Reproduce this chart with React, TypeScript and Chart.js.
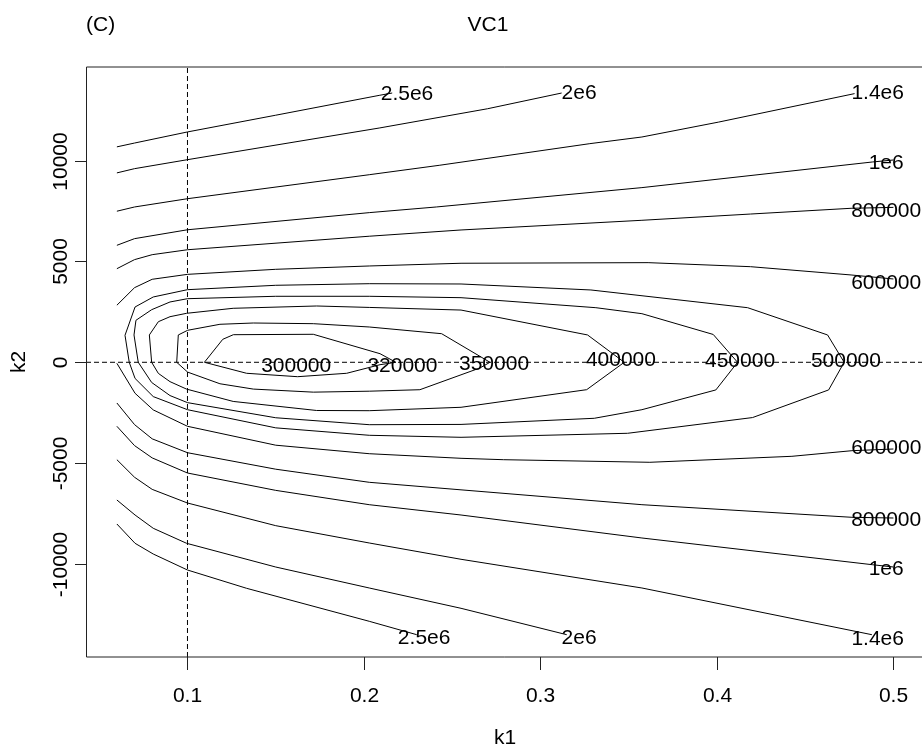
import React, { useEffect, useRef } from "react";
import { Chart, registerables } from "chart.js";

Chart.register(...registerables);

// ---- axis ranges and ticks ----
const X_MIN = 0.0425;
const X_MAX = 0.5162;
const Y_MIN = -14611;
const Y_MAX = 14640;
const xTicks = [0.1, 0.2, 0.3, 0.4, 0.5];
const xTickLabels = ["0.1", "0.2", "0.3", "0.4", "0.5"];
const yTicks = [-10000, -5000, 0, 5000, 10000];
const yTickLabels = ["-10000", "-5000", "0", "5000", "10000"];
const refK1 = 0.1;
const refK2 = 0;
const titleText = "VC1";
const panelText = "(C)";
const xTitle = "k1";
const yTitle = "k2";

// ---- contour lines (k1, k2) ----
const upper2_5e6: number[][] = [[0.06, 10680], [0.07, 10870], [0.1, 11420], [0.15, 12250], [0.209, 13240], [0.216, 13350]];
const upper2e6: number[][] = [[0.06, 9390], [0.07, 9600], [0.1, 10045], [0.209, 11620], [0.27, 12570], [0.312, 13350]];
const upper1_4e6: number[][] = [[0.06, 7490], [0.07, 7700], [0.1, 8110], [0.203, 9300], [0.243, 9770], [0.328, 10840], [0.3575, 11170], [0.401, 11910], [0.478, 13320]];
const upper1e6: number[][] = [[0.06, 5800], [0.07, 6130], [0.1, 6570], [0.203, 7420], [0.241, 7700], [0.3575, 8660], [0.488, 9930], [0.5, 10030]];
const upper800k: number[][] = [[0.06, 4640], [0.07, 5090], [0.08, 5335], [0.1, 5580], [0.203, 6250], [0.255, 6560], [0.3575, 7040], [0.419, 7350], [0.476, 7635], [0.5, 7680]];
const upper600k: number[][] = [[0.06, 2830], [0.07, 3700], [0.08, 4115], [0.1, 4360], [0.15, 4610], [0.203, 4775], [0.255, 4910], [0.361, 4940], [0.419, 4740], [0.476, 4330], [0.5, 4130]];

const loop500k: number[][] = [[0.4721, 0], [0.4627, 1355], [0.4174, 2707], [0.3286, 3585], [0.255, 3882], [0.203, 3897], [0.15, 3818], [0.1, 3600], [0.0806, 3238], [0.0703, 2742], [0.0646, 1339], [0.067, 0], [0.0703, -800], [0.0806, -1700], [0.1, -2350], [0.15, -3250], [0.203, -3619], [0.255, -3719], [0.3494, -3520], [0.4202, -2740], [0.4633, -1370], [0.4721, 0]];
const loop450k: number[][] = [[0.4117, 0], [0.3979, 1380], [0.3575, 2410], [0.3314, 2707], [0.255, 3203], [0.203, 3272], [0.15, 3272], [0.1, 3153], [0.0901, 2990], [0.0797, 2608], [0.0708, 2082], [0.0697, 1355], [0.0721, 0], [0.0797, -1000], [0.0901, -1650], [0.1, -2000], [0.15, -2750], [0.203, -3094], [0.255, -3080], [0.3305, -2776], [0.3575, -2350], [0.3994, -1370], [0.4117, 0]];
const loop400k: number[][] = [[0.3475, 0], [0.3267, 1355], [0.255, 2590], [0.203, 2720], [0.1732, 2791], [0.1259, 2677], [0.0995, 2429], [0.0901, 2261], [0.0835, 2013], [0.0784, 1355], [0.0797, 0], [0.0835, -550], [0.0901, -960], [0.0995, -1330], [0.1259, -1940], [0.1732, -2390], [0.203, -2400], [0.255, -2231], [0.3262, -1358], [0.3475, 0]];
const loop350k: number[][] = [[0.2714, 0], [0.244, 1418], [0.203, 1750], [0.1713, 1914], [0.1373, 1948], [0.1184, 1884], [0.1001, 1587], [0.0948, 1355], [0.0939, 0], [0.1001, -487], [0.1184, -1064], [0.1373, -1328], [0.1713, -1480], [0.203, -1433], [0.2317, -1359], [0.2657, -282], [0.2714, 0]];
const loop320k: number[][] = [[0.2181, 0], [0.2091, 426], [0.1713, 1388], [0.126, 1368], [0.12, 1140], [0.1096, 0], [0.1335, -545], [0.1624, -714], [0.1902, -545], [0.2091, -119], [0.2181, 0]];

const lower600k: number[][] = [[0.06, -50], [0.0703, -1537], [0.0806, -2360], [0.1, -3173], [0.15, -4110], [0.203, -4532], [0.255, -4760], [0.279, -4829], [0.362, -4958], [0.4425, -4661], [0.4765, -4383], [0.5, -4299]];
const lower800k: number[][] = [[0.06, -2018], [0.07, -3090], [0.08, -3795], [0.1, -4483], [0.15, -5300], [0.203, -5950], [0.3575, -7060], [0.4765, -7685], [0.5, -7720]];
const lower1e6: number[][] = [[0.06, -3173], [0.07, -4130], [0.08, -4740], [0.1, -5489], [0.15, -6350], [0.203, -7060], [0.255, -7571], [0.3575, -8711], [0.488, -10035], [0.5, -10149]];
const lower1_4e6: number[][] = [[0.06, -4829], [0.07, -5700], [0.08, -6300], [0.1, -6976], [0.15, -8100], [0.203, -8959], [0.255, -9767], [0.3575, -11190], [0.4878, -13505]];
const lower2e6: number[][] = [[0.06, -6827], [0.0703, -7571], [0.0806, -8230], [0.0995, -8974], [0.15, -10150], [0.203, -11190], [0.255, -12197], [0.3149, -13505]];
const lower2_5e6: number[][] = [[0.06, -8017], [0.0703, -8974], [0.0806, -9505], [0.1, -10298], [0.1335, -11205], [0.203, -12841], [0.2299, -13505]];

const contourLines = [
  upper2_5e6, upper2e6, upper1_4e6, upper1e6, upper800k, upper600k,
  loop500k, loop450k, loop400k, loop350k, loop320k,
  lower600k, lower800k, lower1e6, lower1_4e6, lower2e6, lower2_5e6,
];

// ---- contour labels ----
const labelText = ["2.5e6", "2e6", "1.4e6", "1e6", "800000", "600000", "500000", "450000", "400000", "350000", "320000", "300000", "600000", "800000", "1e6", "1.4e6", "2e6", "2.5e6"];
const labelK1 = [0.2244, 0.3219, 0.4911, 0.4959, 0.4959, 0.4959, 0.4731, 0.4131, 0.3456, 0.2737, 0.2218, 0.1616, 0.496, 0.4959, 0.4959, 0.4911, 0.3219, 0.2341];
const labelK2 = [13302, 13362, 13362, 9891, 7492, 3942, 75, 50, 114, -94, -174, -174, -4264, -7844, -10238, -13709, -13694, -13669];

const FONT = '"Liberation Sans", Arial, Helvetica, sans-serif';

const framePlugin = {
  id: "framePlugin",
  afterDatasetsDraw(chart: any) {
    const { ctx, scales } = chart;
    const xs = scales.x;
    const ys = scales.y;
    ctx.save();
    ctx.fillStyle = "#000";
    ctx.font = `21px ${FONT}`;
    ctx.textAlign = "center";
    ctx.textBaseline = "middle";
    for (let i = 0; i < labelText.length; i++) {
      ctx.fillText(labelText[i], xs.getPixelForValue(labelK1[i]), ys.getPixelForValue(labelK2[i]));
    }
    ctx.restore();
  },
  afterDraw(chart: any) {
    const { ctx, chartArea: a, scales } = chart;
    const xs = scales.x;
    const ys = scales.y;
    ctx.save();
    ctx.strokeStyle = "#222";
    ctx.lineWidth = 1;
    ctx.beginPath();
    ctx.moveTo(a.right + 5, a.top);
    ctx.lineTo(a.left + 0.5, a.top);
    ctx.lineTo(a.left + 0.5, a.bottom);
    ctx.lineTo(a.right + 5, a.bottom);
    ctx.stroke();

    ctx.fillStyle = "#000";
    ctx.font = `21px ${FONT}`;
    // x ticks
    ctx.textAlign = "center";
    ctx.textBaseline = "alphabetic";
    xTicks.forEach((v, i) => {
      const px = Math.round(xs.getPixelForValue(v)) + 0.5;
      ctx.beginPath();
      ctx.moveTo(px, a.bottom);
      ctx.lineTo(px, a.bottom + 13);
      ctx.stroke();
      ctx.fillText(xTickLabels[i], px, a.bottom + 45);
    });
    // y ticks
    yTicks.forEach((v, i) => {
      const py = Math.round(ys.getPixelForValue(v)) + 0.5;
      ctx.beginPath();
      ctx.moveTo(a.left, py);
      ctx.lineTo(a.left - 11, py);
      ctx.stroke();
      ctx.save();
      ctx.translate(a.left - 19.5, py);
      ctx.rotate(-Math.PI / 2);
      ctx.fillText(yTickLabels[i], 0, 0);
      ctx.restore();
    });
    // axis titles
    ctx.fillText(xTitle, 505, 744);
    ctx.save();
    ctx.translate(25, (a.top + a.bottom) / 2);
    ctx.rotate(-Math.PI / 2);
    ctx.fillText(yTitle, 0, 0);
    ctx.restore();
    // titles
    ctx.fillText(titleText, 488, 31);
    ctx.textAlign = "left";
    ctx.fillText(panelText, 86, 31);
    ctx.restore();
  },
};

export default function App() {
  const ref = useRef<HTMLCanvasElement | null>(null);
  useEffect(() => {
    if (!ref.current) return;
    const datasets: any[] = [
      {
        data: [{ x: refK1, y: Y_MIN }, { x: refK1, y: Y_MAX }],
        borderDash: [5, 3],
      },
      {
        data: [{ x: X_MIN, y: refK2 }, { x: X_MAX, y: refK2 }],
        borderDash: [5, 3],
      },
      ...contourLines.map((ln) => ({ data: ln.map((p) => ({ x: p[0], y: p[1] })) })),
    ].map((d) => ({
      ...d,
      showLine: true,
      borderColor: "#000",
      borderWidth: 1,
      pointRadius: 0,
      tension: 0,
      fill: false,
    }));
    const chart = new Chart(ref.current, {
      type: "scatter",
      data: { datasets },
      options: {
        animation: false,
        responsive: false,
        devicePixelRatio: 1,
        events: [],
        layout: { padding: { left: 86, top: 67, right: 0, bottom: 92 } },
        plugins: { legend: { display: false }, tooltip: { enabled: false } },
        scales: {
          x: { type: "linear", min: X_MIN, max: X_MAX, display: false },
          y: { type: "linear", min: Y_MIN, max: Y_MAX, display: false },
        },
      },
      plugins: [framePlugin],
    });
    return () => chart.destroy();
  }, []);
  return (
    <div style={{ position: "absolute", left: 0, top: 0, width: 922, height: 749, background: "#fff" }}>
      <canvas ref={ref} width={922} height={749} style={{ width: 922, height: 749, display: "block" }} />
    </div>
  );
}
